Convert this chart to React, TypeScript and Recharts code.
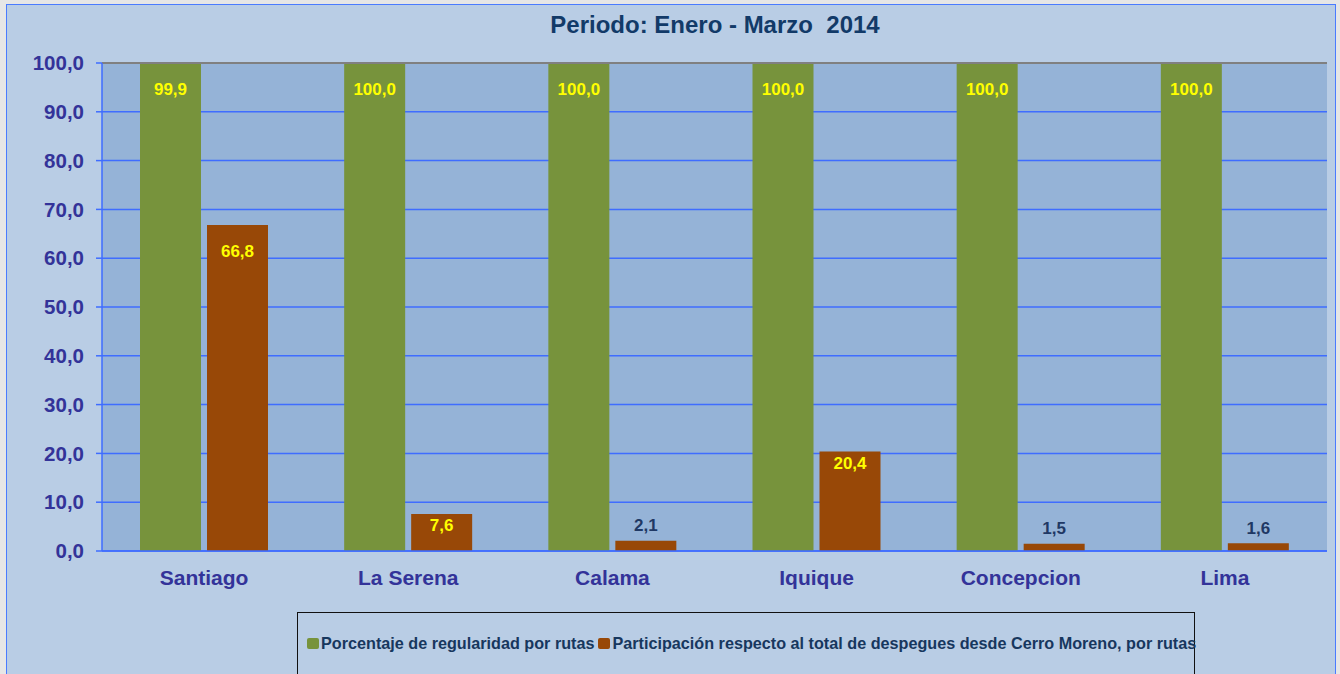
import React from "react";
import { BarChart, Bar, XAxis, YAxis, CartesianGrid, ReferenceLine, LabelList } from "recharts";

const categories = ["Santiago", "La Serena", "Calama", "Iquique", "Concepcion", "Lima"];
const regularidad = [99.9, 100.0, 100.0, 100.0, 100.0, 100.0];
const participacion = [66.8, 7.6, 2.1, 20.4, 1.5, 1.6];
const yTicks = [0, 10, 20, 30, 40, 50, 60, 70, 80, 90, 100];
const edgeTicks = [0, 1, 2, 3, 4, 5, 6];

const serieVerde = "Porcentaje de regularidad por rutas";
const serieCafe = "Participación respecto al total de despegues desde Cerro Moreno, por rutas";

const data = categories.map((name, i) => ({
  name,
  regularidad: regularidad[i],
  participacion: participacion[i],
}));

const fmt = (v: number) => Number(v).toFixed(1).replace(".", ",");

const FONT = '"Liberation Sans", Arial, sans-serif';
const GRID_BLUE = "#3f6dff";

// labels inside the bar when it is tall enough, above it otherwise
const BarLabel = (props: any) => {
  const { x, y, width, height, value } = props;
  const inside = height > 20;
  const cy = inside ? y + (height > 100 ? 26 : 12) : y - 15;
  return (
    <text
      x={x + width / 2}
      y={cy}
      textAnchor="middle"
      dominantBaseline="central"
      fontFamily={FONT}
      fontWeight="bold"
      fontSize={17}
      fill={inside ? "#ffff00" : "#1f3864"}
    >
      {fmt(value)}
    </text>
  );
};

const LegendItem = ({ color, label }: { color: string; label: string }) => (
  <span style={{ display: "inline-flex", alignItems: "center", marginRight: 4 }}>
    <span
      style={{
        display: "inline-block",
        width: 12,
        height: 11,
        background: color,
        borderRadius: 2,
        marginRight: 2,
      }}
    />
    {label}
  </span>
);

export default function App() {
  return (
    <div
      style={{
        position: "fixed",
        left: 0,
        top: 0,
        width: 1340,
        height: 674,
        background: "#e6e6e6",
        overflow: "hidden",
        fontFamily: FONT,
      }}
    >
      <div
        style={{
          position: "absolute",
          left: 6,
          top: 4,
          width: 1328,
          height: 680,
          background: "#b9cde5",
          border: "1px solid #4a7bff",
        }}
      >
        <div
          style={{
            position: "absolute",
            left: 308,
            top: 6,
            width: 800,
            textAlign: "center",
            whiteSpace: "pre",
            fontSize: 24,
            fontWeight: "bold",
            color: "#123a68",
          }}
        >
          {"Periodo: Enero - Marzo  2014"}
        </div>

        <BarChart
          width={1328}
          height={668}
          data={data}
          margin={{ top: 58, right: 8, left: 0, bottom: 82 }}
          barCategoryGap={38}
          barGap={6}
        >
          <CartesianGrid
            xAxisId="cat"
            yAxisId="l"
            vertical={false}
            stroke={GRID_BLUE}
            strokeWidth={1.5}
            fill="#95b3d7"
            fillOpacity={1}
          />
          <XAxis
            xAxisId="edges"
            type="number"
            domain={[0, 6]}
            ticks={edgeTicks}
            tick={false}
            axisLine={false}
            tickSize={6}
            tickLine={{ stroke: GRID_BLUE, strokeWidth: 1.5 }}
            height={0}
          />
          <XAxis
            xAxisId="cat"
            dataKey="name"
            height={40}
            tickLine={false}
            tickSize={0}
            tickMargin={19}
            axisLine={{ stroke: GRID_BLUE, strokeWidth: 1.5 }}
            tick={{ fill: "#333399", fontSize: 21, fontWeight: "bold", fontFamily: FONT }}
          />
          <YAxis
            yAxisId="l"
            width={95}
            domain={[0, 100]}
            ticks={yTicks}
            interval={0}
            tickFormatter={fmt}
            tickSize={6}
            tickMargin={12}
            axisLine={{ stroke: GRID_BLUE, strokeWidth: 1.5 }}
            tickLine={{ stroke: GRID_BLUE, strokeWidth: 1.5 }}
            tick={{ fill: "#333399", fontSize: 20.5, fontWeight: "bold", fontFamily: FONT }}
          />
          <YAxis
            yAxisId="r"
            orientation="right"
            width={0}
            domain={[0, 100]}
            tick={false}
            tickLine={false}
            axisLine={{ stroke: "#808080", strokeWidth: 2 }}
          />
          <ReferenceLine yAxisId="l" xAxisId="cat" y={100} stroke="#808080" strokeWidth={2} />
          <Bar
            xAxisId="cat"
            yAxisId="l"
            dataKey="regularidad"
            name={serieVerde}
            fill="#77933c"
            isAnimationActive={false}
          >
            <LabelList dataKey="regularidad" content={BarLabel} />
          </Bar>
          <Bar
            xAxisId="cat"
            yAxisId="l"
            dataKey="participacion"
            name={serieCafe}
            fill="#984807"
            isAnimationActive={false}
          >
            <LabelList dataKey="participacion" content={BarLabel} />
          </Bar>
        </BarChart>

        <div
          style={{
            position: "absolute",
            left: 290,
            top: 607,
            width: 898,
            height: 80,
            border: "1px solid #111",
            boxSizing: "border-box",
            paddingLeft: 9,
            paddingTop: 21,
            fontSize: 16.2,
            fontWeight: "bold",
            color: "#17375e",
            whiteSpace: "nowrap",
          }}
        >
          <LegendItem color="#77933c" label={serieVerde} />
          <LegendItem color="#984807" label={serieCafe} />
        </div>
      </div>
    </div>
  );
}
